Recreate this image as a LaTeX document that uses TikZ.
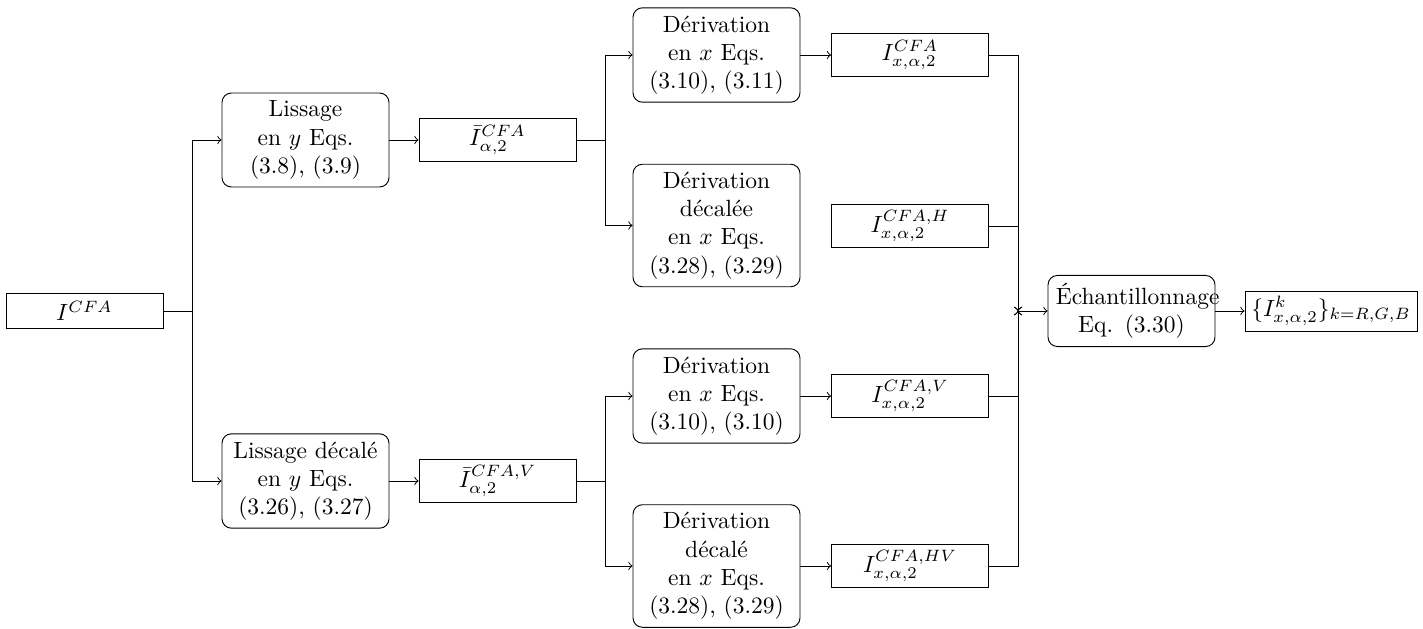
\documentclass[tikz,border=0pt]{standalone}
\usepackage{fontspec}
\tikzset{
  rbox/.style={draw, rounded corners=4pt, text width=64.4pt, align=center, inner sep=3.33pt},
  sbox/.style={draw, rectangle, minimum width=66.8pt, minimum height=18.3pt, inner sep=2pt},
}
\begin{document}
\begin{tikzpicture}[x=0.4255pt,y=-0.4255pt]
\useasboundingbox (0,0) rectangle (1423,628);
% nodes
\node[sbox, minimum height=14.9pt] (in) at (84.5,311) {$I^{CFA}$};
\node[rbox] (lis1) at (305.5,140) {Lissage\\ en $y$ Eqs.\\ (3.8), (3.9)};
\node[rbox] (lis2) at (305.5,481) {Lissage décalé\\ en $y$ Eqs.\\ (3.26), (3.27)};
\node[sbox] (ib1) at (497.5,140) {$\bar{I}_{\alpha,2}^{CFA}$};
\node[sbox] (ib2) at (497.5,481) {$\bar{I}_{\alpha,2}^{CFA,V}$};
\node[rbox] (d1) at (716.5,55) {Dérivation\\ en $x$ Eqs.\\ (3.10), (3.11)};
\node[rbox] (d2) at (716.5,225.5) {Dérivation\\ décalée\\ en $x$ Eqs.\\ (3.28), (3.29)};
\node[rbox] (d3) at (716.5,396) {Dérivation\\ en $x$ Eqs.\\ (3.10), (3.10)};
\node[rbox] (d4) at (716.5,566) {Dérivation\\ décalé\\ en $x$ Eqs.\\ (3.28), (3.29)};
\node[sbox] (x1) at (910,55) {$I_{x,\alpha,2}^{CFA}$};
\node[sbox] (xH) at (910,226) {$I_{x,\alpha,2}^{CFA,H}$};
\node[sbox] (xV) at (910,396) {$I_{x,\alpha,2}^{CFA,V}$};
\node[sbox] (xHV) at (910,566) {$I_{x,\alpha,2}^{CFA,HV}$};
\node[rbox] (ech) at (1131.5,311) {Échantillonnage\\ Eq. (3.30)};
\node[sbox, minimum width=73.2pt, minimum height=17pt] (out) at (1331,311) {$\{I_{x,\alpha,2}^{k}\}_{k=R,G,B}$};
% branch points
\coordinate (b1) at (192,311);
\coordinate (b2) at (605,140);
\coordinate (b3) at (605,481);
\coordinate (m) at (1018,311);
% connectors
\draw (in.east) -- (b1);
\draw[->] (b1) |- (lis1.west);
\draw[->] (b1) |- (lis2.west);
\draw[->] (lis1.east) -- (ib1.west);
\draw[->] (lis2.east) -- (ib2.west);
\draw (ib1.east) -- (b2);
\draw[->] (b2) |- (d1.west);
\draw[->] (b2) |- (d2.west);
\draw (ib2.east) -- (b3);
\draw[->] (b3) |- (d3.west);
\draw[->] (b3) |- (d4.west);
\draw[->] (d1.east) -- (x1.west);
\draw[->] (d3.east) -- (xV.west);
\draw[->] (d4.east) -- (xHV.west);
\draw[->] (x1.east) -| (m);
\draw[->] (xH.east) -| (m);
\draw[->] (xV.east) -| (m);
\draw[->] (xHV.east) -| (m);
\draw[->] (m) -- (ech.west);
\draw[->] (ech.east) -- (out.west);
\end{tikzpicture}
\end{document}
